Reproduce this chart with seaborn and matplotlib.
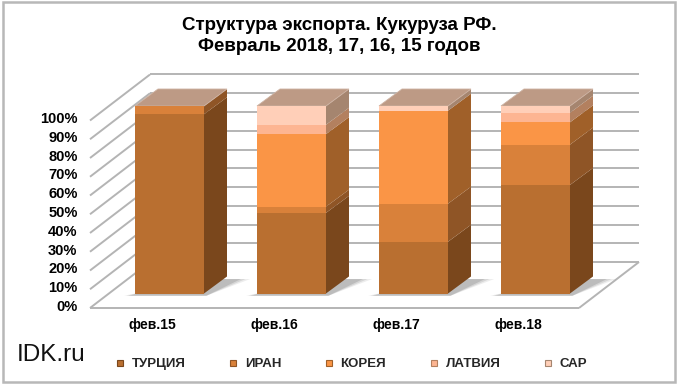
import numpy as np
import matplotlib
matplotlib.use('Agg')
import matplotlib.pyplot as plt
import seaborn as sns
from matplotlib.patches import Polygon, Rectangle
from matplotlib.lines import Line2D

months = ['фев.15', 'фев.16', 'фев.17', 'фев.18']
series_names = ['ТУРЦИЯ', 'ИРАН', 'КОРЕЯ', 'ЛАТВИЯ', 'САР']
turkey = [95.6, 43.0, 27.6, 57.9]
iran = [4.4, 3.3, 20.3, 21.5]
korea = [0.0, 38.7, 49.6, 11.9]
latvia = [0.0, 5.0, 0.0, 5.1]
sar = [0.0, 10.0, 2.5, 3.6]
percent_ticks = [0, 10, 20, 30, 40, 50, 60, 70, 80, 90, 100]

front_colors = ['#b96f30', '#d9813a', '#fa9546', '#fdb592', '#ffcfb8']
side_colors = ['#7a471c', '#8f5526', '#a06029', '#b3805f', '#a5856f']
top_color = '#bd9a85'

W, H = 680, 385
PX_X = 122.0    # px per category
PX_Y = 1.875    # px per percent
BAR_W = 69 / PX_X
# offset of the bar's own depth
DX, DY = 23 / PX_X, 17 / PX_Y
# front plane of the box vs. plane of the bars
BOX_X, BOX_Y = 19 / PX_X, 14.5 / PX_Y
# full depth of the box
WALL_X, WALL_Y = 60 / PX_X, 46 / PX_Y

sns.set_theme(style='white')
plt.rcParams['font.family'] = ['Liberation Sans', 'DejaVu Sans']

fig = plt.figure(figsize=(W / 100, H / 100), dpi=100, facecolor='white')

# axes in the plane of the bars, covers whole figure
ax = fig.add_axes([0, 0, 1, 1], zorder=1)
x0_px, y0_px = 169.5, 293.5
xlim = (-x0_px / PX_X, (W - x0_px) / PX_X)
ylim = (-(H - y0_px) / PX_Y, y0_px / PX_Y)

stack = np.cumsum([turkey, iran, korea, latvia, sar], axis=0)

# box: floor and walls
left_front = (90 - x0_px) / PX_X
right_front = (579 - x0_px) / PX_X
grid_kw = dict(color='#b4b4b4', lw=1.4, solid_capstyle='butt', zorder=1)
for p in percent_ticks:
    y_front = p - BOX_Y
    y_back = y_front + WALL_Y
    ax.plot([left_front, left_front + WALL_X], [y_front, y_back], **grid_kw)
    ax.plot([left_front + WALL_X, right_front + WALL_X], [y_back, y_back], **grid_kw)
ax.plot([left_front, right_front], [-BOX_Y, -BOX_Y], **grid_kw)
ax.plot([right_front, right_front + WALL_X], [-BOX_Y, WALL_Y - BOX_Y], **grid_kw)

# shadows on the floor
for i in range(len(months)):
    xl, xr = i - BAR_W / 2, i + BAR_W / 2
    for k, a in [(1.0, 0.12), (0.8, 0.18), (0.6, 0.25)]:
        ax.add_patch(Polygon([(xl - 0.09 * k, -1.2), (xr + 0.02, -1.2),
                              (xr + DX + 0.19 * k, DY * 0.85), (xr, DY * 0.85)],
                             closed=True, fc='#707070', ec='none', alpha=a, zorder=2))

# side and top faces
for i in range(len(months)):
    xr = i + BAR_W / 2
    xl = i - BAR_W / 2
    bottom = 0.0
    for s in range(len(series_names)):
        top = stack[s][i]
        if top > bottom:
            ax.add_patch(Polygon([(xr, bottom), (xr + DX, bottom + DY),
                                  (xr + DX, top + DY), (xr, top)],
                                 closed=True, fc=side_colors[s], ec='none', zorder=3))
        bottom = top
    ax.add_patch(Polygon([(xl, 100), (xl + DX, 100 + DY), (xr + DX, 100 + DY), (xr, 100)],
                         closed=True, fc=top_color, ec='#cdb2a2', lw=0.6, zorder=3))

# front faces, tallest stack first so the lower ones lie over it
for s in reversed(range(len(series_names))):
    sns.barplot(x=months, y=stack[s], color=front_colors[s], saturation=1, width=BAR_W,
                ax=ax, zorder=4, linewidth=0, order=months)
ax.set_xlim(xlim)
ax.set_ylim(ylim)
ax.axis('off')

# axes on the front of the box, only holds the tick labels
ax_front = fig.add_axes([90 / W, (H - 305.5) / H, (579 - 90) / W, 188 / H], zorder=2)
ax_front.patch.set_alpha(0)
ax_front.set_xlim((90 - 152) / PX_X, (579 - 152) / PX_X)
ax_front.set_ylim(0, 100)
ax_front.set_yticks(percent_ticks)
ax_front.set_yticklabels(['%d%%' % p for p in percent_ticks], fontweight='bold', fontsize=10.5,
                         color='black')
ax_front.set_xticks(range(len(months)))
ax_front.set_xticklabels(months, fontweight='bold', fontsize=10, color='black')
ax_front.tick_params(axis='y', length=0, pad=9)
ax_front.tick_params(axis='x', length=0, pad=9)
sns.despine(ax=ax_front, left=True, bottom=True)

fig.text(339 / W, 1 - 36 / H, 'Структура экспорта. Кукуруза РФ.\nФевраль 2018, 17, 16, 15 годов',
         ha='center', va='center', fontsize=13.5, fontweight='bold', color='black', linespacing=1.25)
fig.text(17 / W, 1 - 355 / H, 'IDK.ru', ha='left', va='center', fontsize=17.5, color='#111111')

handles = [Line2D([], [], marker='s', ls='none', ms=5, mfc=front_colors[s], mec=side_colors[s], mew=0.8)
           for s in range(len(series_names))]
fig.legend(handles, series_names, loc='center', bbox_to_anchor=(347 / W, 1 - 364 / H), ncol=5,
           frameon=False, handletextpad=-0.1, columnspacing=2.6, prop=dict(weight='bold', size=9.5))

# frame of the picture
fig.add_artist(Rectangle((3 / W, 1 - 381.5 / H), 672 / W, 380 / H, transform=fig.transFigure,
                         fc='none', ec='#b8b8b8', lw=1.8))

fig.savefig('out.png', dpi=100)
